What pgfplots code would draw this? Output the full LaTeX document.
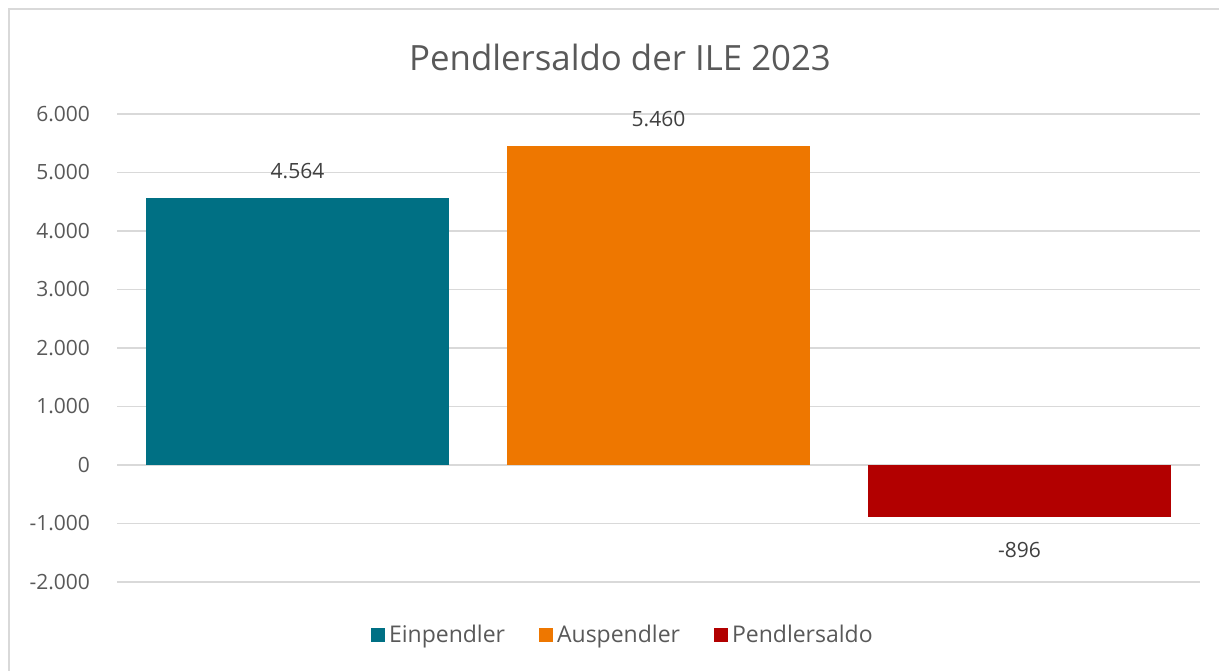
\documentclass[border=0pt]{standalone}
\usepackage{fontspec}
\setmainfont{Open Sans}
\usepackage{pgfplots}
\pgfplotsset{compat=1.18}
\definecolor{txtgray}{RGB}{89,89,89}
\definecolor{gridgray}{RGB}{217,217,217}
\definecolor{einteal}{RGB}{0,112,132}
\definecolor{ausorange}{RGB}{238,119,0}
\definecolor{saldored}{RGB}{178,0,0}

\begin{document}
\begin{tikzpicture}
% page = 1219 x 670 px at 0.5pt per px, origin bottom left
\useasboundingbox (0pt,0pt) rectangle (609.5pt,335pt);
\draw[gridgray, line width=1pt] (4.5pt,-10pt) -- (4.5pt,330.5pt) -- (620pt,330.5pt);
\node[txtgray, font=\fontsize{17.4}{20}\selectfont] at (310pt,306.5pt) {Pendlersaldo der ILE 2023};
\begin{axis}[
  at={(58.5pt,44pt)}, anchor=south west,
  scale only axis, width=541.5pt, height=234pt,
  xmin=-0.5, xmax=2.5, ymin=-2000, ymax=6000,
  ytick={-2000,-1000,...,6000},
  xtick=\empty,
  axis line style={draw=none},
  major tick length=0pt,
  ymajorgrids, grid style={gridgray, line width=0.75pt},
  ybar, bar shift=0pt, bar width=0.842,
  tick label style={font=\fontsize{10.5}{12}\selectfont, text=txtgray},
  yticklabel style={xshift=-10pt},
  /pgf/number format/.cd, 1000 sep={.}, assume math mode=true,
  /pgfplots/.cd,
  nodes near coords,
  every node near coord/.append style={font=\fontsize{10.5}{12}\selectfont, text=black!75},
  legend columns=3,
  legend style={at={(0.468,-0.113)}, anchor=center, draw=none, fill=none,
    font=\fontsize{11.5}{13}\selectfont, text=txtgray,
    /tikz/every even column/.append style={column sep=15pt}},
  legend image code/.code={\fill[#1] (0pt,-3.5pt) rectangle (7pt,3.5pt);},
]
  \addplot[fill=einteal, draw=none,
    every node near coord/.append style={yshift=6pt}]
    coordinates {(0,4564)};
  \addlegendentry{Einpendler}
  \addplot[fill=ausorange, draw=none,
    every node near coord/.append style={yshift=6pt}]
    coordinates {(1,5460)};
  \addlegendentry{Auspendler}
  \addplot[fill=saldored, draw=none,
    every node near coord/.append style={yshift=-9pt}]
    coordinates {(2,-896)};
  \addlegendentry{Pendlersaldo}
\end{axis}
\end{tikzpicture}
\end{document}
